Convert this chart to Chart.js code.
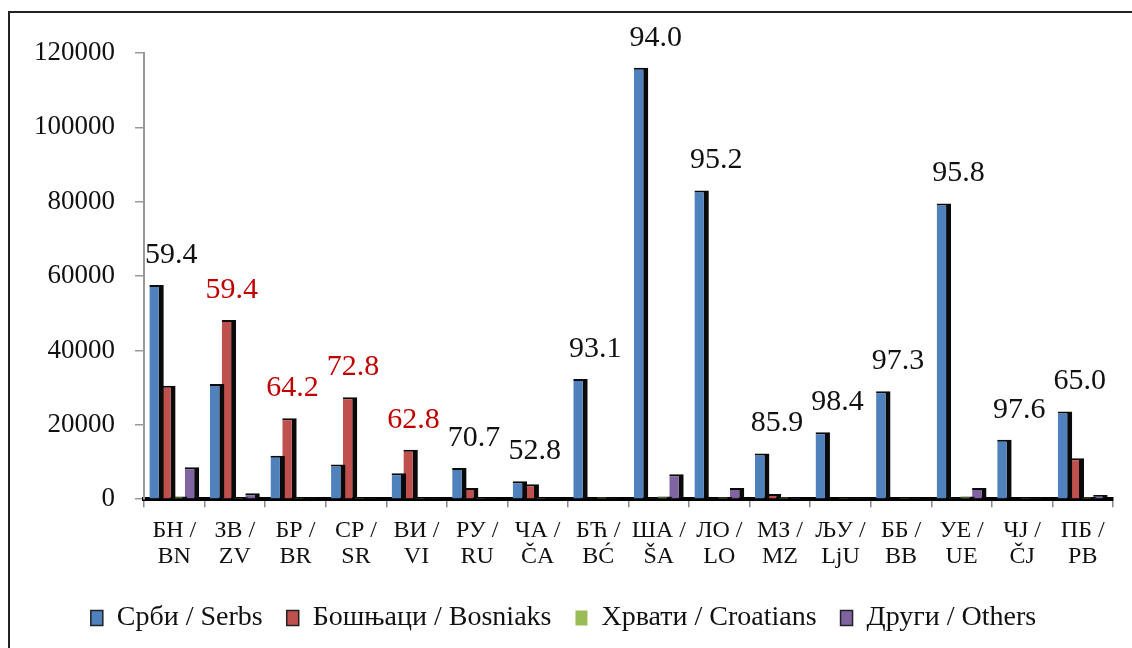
<!DOCTYPE html>
<html>
<head>
<meta charset="utf-8">
<script src="https://cdn.jsdelivr.net/npm/chart.js@4/dist/chart.umd.min.js"></script>
<style>
  html, body { margin: 0; padding: 0; background: #fff; overflow: hidden; }
  #frame { position: absolute; left: 8px; top: 11px; width: 1200px; height: 700px;
           border-left: 2px solid #222; border-top: 2px solid #222; }
  #wrap { position: absolute; left: 0; top: 0; width: 1132px; height: 648px; }
</style>
</head>
<body>
<div id="frame"></div>
<div id="wrap"><canvas id="grafik"></canvas></div>
<script>
// opštine
const kategorije = [
  ['БН /', 'BN'], ['ЗВ /', 'ZV'], ['БР /', 'BR'], ['СР /', 'SR'],
  ['ВИ /', 'VI'], ['РУ /', 'RU'], ['ЧА /', 'ČA'], ['БЋ /', 'BĆ'],
  ['ША /', 'ŠA'], ['ЛО /', 'LO'], ['МЗ /', 'MZ'], ['ЉУ /', 'LjU'],
  ['ББ /', 'BB'], ['УЕ /', 'UE'], ['ЧЈ /', 'ČJ'], ['ПБ /', 'PB']
];

const srbi     = [57600, 31000, 11700, 9300, 7000, 8400, 4800, 32300, 116000, 83000, 12300, 18000, 29000, 79500, 16000, 23600];
const bosnjaci = [30500, 48200, 21800, 27400, 13300, 3000, 4000, 300, 300, 300, 1400, 200, 100, 300, 100, 11000];
const hrvati   = [700, 500, 500, 400, 400, 400, 400, 600, 700, 600, 600, 500, 500, 700, 500, 600];
const drugi    = [8600, 1600, 300, 300, 300, 300, 300, 300, 6700, 3000, 400, 300, 300, 3000, 300, 1100];

// udeo većinskog naroda (%)
const udeo = ['59.4', '59.4', '64.2', '72.8', '62.8', '70.7', '52.8', '93.1',
              '94.0', '95.2', '85.9', '98.4', '97.3', '95.8', '97.6', '65.0'];

const yTicks = [0, 20000, 40000, 60000, 80000, 100000, 120000];

const serif = "'Liberation Serif', 'Times New Roman', serif";

const natpisi = {
  id: 'natpisi',
  afterDatasetsDraw(chart) {
    const ctx = chart.ctx;
    const x = chart.scales.x;
    ctx.save();
    ctx.font = '30px ' + serif;
    ctx.textAlign = 'center';
    ctx.textBaseline = 'middle';
    udeo.forEach((t, i) => {
      let top = Infinity;
      chart.data.datasets.forEach((ds, d) => {
        const el = chart.getDatasetMeta(d).data[i];
        if (el && el.y < top) top = el.y;
      });
      ctx.fillStyle = bosnjaci[i] > srbi[i] ? '#C00000' : '#111';
      ctx.fillText(t, x.getPixelForValue(i) - 3, top - 30);
    });
    ctx.restore();
  }
};

function serija(label, data, boja) {
  return {
    label, data,
    backgroundColor: boja,
    borderColor: '#0a0a0a',
    borderWidth: { top: 2, right: 5, left: 0, bottom: 0 },
    borderSkipped: false,
    categoryPercentage: 0.78,
    barPercentage: 1.22
  };
}

new Chart(document.getElementById('grafik'), {
  type: 'bar',
  data: {
    labels: kategorije,
    datasets: [
      serija('Срби / Serbs', srbi, '#4F81BD'),
      serija('Бошњаци / Bosniaks', bosnjaci, '#C0504D'),
      serija('Хрвати / Croatians', hrvati, '#9BBB59'),
      serija('Други / Others', drugi, '#8064A2')
    ]
  },
  options: {
    responsive: true,
    maintainAspectRatio: false,
    animation: false,
    layout: { padding: { left: 14, right: 19, top: 53, bottom: 6 } },
    plugins: {
      tooltip: { enabled: false },
      legend: {
        position: 'bottom',
        labels: {
          font: { family: serif, size: 28 },
          color: '#111',
          boxWidth: 12,
          boxHeight: 15,
          padding: 24,
          generateLabels(chart) {
            return Chart.defaults.plugins.legend.labels.generateLabels(chart).map((l, i) => {
              l.lineWidth = i === 2 ? 0 : 1.5;
              l.strokeStyle = '#222';
              return l;
            });
          }
        }
      }
    },
    scales: {
      x: {
        grid: { display: true, drawOnChartArea: false, color: '#888', tickLength: 8, lineWidth: 1.5 },
        border: { display: true, color: '#000', width: 4 },
        ticks: { font: { family: serif, size: 24, lineHeight: 1.1 }, color: '#111', padding: 10, maxRotation: 0, autoSkip: false }
      },
      y: {
        min: 0,
        max: 120000,
        afterBuildTicks(scale) { scale.ticks = yTicks.map(v => ({ value: v })); },
        grid: { display: true, drawOnChartArea: false, color: '#999', tickLength: 9, lineWidth: 1.5 },
        border: { display: true, color: '#999', width: 2 },
        ticks: { font: { family: serif, size: 27 }, color: '#111', padding: 20, callback: v => String(v) }
      }
    }
  },
  plugins: [natpisi]
});
</script>
</body>
</html>
